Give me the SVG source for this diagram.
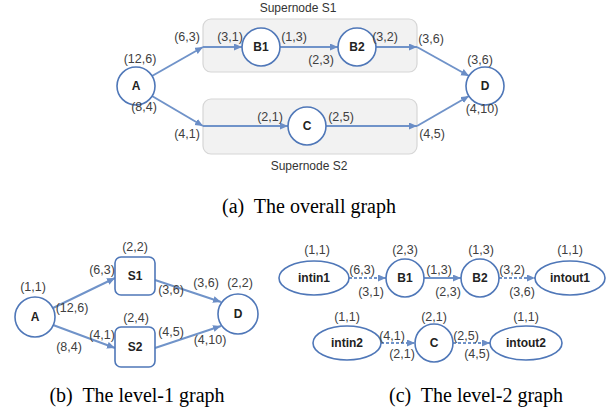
<svg xmlns="http://www.w3.org/2000/svg" width="616" height="410" viewBox="0 0 616 410">
<style>
.n{fill:#fff;stroke:#4f77b8;stroke-width:1.6}
.box{fill:#f2f2f2;stroke:#d6d6d6;stroke-width:1.2}
.e{fill:none;stroke:#7093c9;stroke-width:2}
.d{stroke-dasharray:3 2}
.l{font-family:"Liberation Sans",Arial,sans-serif;font-size:12.5px;fill:#404040;text-anchor:middle}
.nl{font-family:"Liberation Sans",Arial,sans-serif;font-size:12px;font-weight:bold;fill:#222;text-anchor:middle}
.sn{font-family:"Liberation Sans",Arial,sans-serif;font-size:12px;fill:#333;text-anchor:middle}
.cap{font-family:"Liberation Serif","Times New Roman",serif;font-size:20px;fill:#000;text-anchor:middle;white-space:pre}
</style>
<defs>
<marker id="ar" markerUnits="userSpaceOnUse" markerWidth="9" markerHeight="8" refX="8" refY="3.5" orient="auto">
<path d="M0,0 L8,3.5 L0,7 z" fill="#6a8dc6"/>
</marker>
</defs>

<!-- Panel (a) -->
<g id="supernode-s1">
<rect class="box" x="203" y="19" width="214" height="53" rx="8"/>
<text class="sn" x="298" y="12">Supernode S1</text>
</g>
<g id="supernode-s2">
<rect class="box" x="203" y="99" width="214" height="55" rx="8"/>
<text class="sn" x="309" y="170">Supernode S2</text>
</g>
<g id="connectors-a">
<path class="e" d="M152,76 L203,47" marker-end="url(#ar)"/>
<path class="e" d="M203,47 L242,47" marker-end="url(#ar)"/>
<path class="e" d="M280,47 L338,47" marker-end="url(#ar)"/>
<path class="e" d="M376,47 L417,47" marker-end="url(#ar)"/>
<path class="e" d="M417,47 L469,76" marker-end="url(#ar)"/>
<path class="e" d="M152,96 L203,126" marker-end="url(#ar)"/>
<path class="e" d="M203,126 L288,126" marker-end="url(#ar)"/>
<path class="e" d="M326,126 L417,126" marker-end="url(#ar)"/>
<path class="e" d="M417,126 L469,96" marker-end="url(#ar)"/>
</g>
<g id="a-A"><circle class="n" cx="136" cy="86" r="19"/><text class="nl" x="136" y="90">A</text></g>
<g id="a-B1"><circle class="n" cx="261" cy="47" r="19"/><text class="nl" x="261" y="51">B1</text></g>
<g id="a-B2"><circle class="n" cx="357" cy="47" r="19"/><text class="nl" x="357" y="51">B2</text></g>
<g id="a-C"><circle class="n" cx="307" cy="126" r="19"/><text class="nl" x="307" y="130">C</text></g>
<g id="a-D"><circle class="n" cx="485" cy="86" r="19"/><text class="nl" x="485" y="90">D</text></g>
<g id="labels-a">
<text class="l" x="140" y="63">(12,6)</text>
<text class="l" x="187" y="41">(6,3)</text>
<text class="l" x="230" y="41">(3,1)</text>
<text class="l" x="294" y="41">(1,3)</text>
<text class="l" x="321" y="64">(2,3)</text>
<text class="l" x="385" y="41">(3,2)</text>
<text class="l" x="431" y="43">(3,6)</text>
<text class="l" x="480" y="64">(3,6)</text>
<text class="l" x="144" y="111">(8,4)</text>
<text class="l" x="482" y="113">(4,10)</text>
<text class="l" x="270" y="121">(2,1)</text>
<text class="l" x="341" y="121">(2,5)</text>
<text class="l" x="187" y="138">(4,1)</text>
<text class="l" x="432" y="138">(4,5)</text>
</g>
<text class="cap" x="309" y="213">(a)  The overall graph</text>

<!-- Panel (b) -->
<g id="connectors-b">
<path class="e" d="M53,308 L115,278" marker-end="url(#ar)"/>
<path class="e" d="M53,325 L115,348" marker-end="url(#ar)"/>
<path class="e" d="M155,280 L221,302" marker-end="url(#ar)"/>
<path class="e" d="M155,348 L221,326" marker-end="url(#ar)"/>
</g>
<g id="b-A"><circle class="n" cx="35" cy="317" r="20"/><text class="nl" x="35" y="321">A</text></g>
<g id="b-S1"><rect class="n" x="115" y="257" width="40" height="38" rx="6"/><text class="nl" x="135" y="280">S1</text></g>
<g id="b-S2"><rect class="n" x="115" y="327" width="40" height="40" rx="6"/><text class="nl" x="135" y="351">S2</text></g>
<g id="b-D"><circle class="n" cx="238" cy="314" r="20"/><text class="nl" x="238" y="318">D</text></g>
<g id="labels-b">
<text class="l" x="135" y="251">(2,2)</text>
<text class="l" x="102" y="274">(6,3)</text>
<text class="l" x="33" y="291">(1,1)</text>
<text class="l" x="72" y="312">(12,6)</text>
<text class="l" x="171" y="294">(3,6)</text>
<text class="l" x="206" y="287">(3,6)</text>
<text class="l" x="240" y="287">(2,2)</text>
<text class="l" x="136" y="322">(2,4)</text>
<text class="l" x="102" y="339">(4,1)</text>
<text class="l" x="69" y="351">(8,4)</text>
<text class="l" x="171" y="336">(4,5)</text>
<text class="l" x="210" y="344">(4,10)</text>
</g>
<text class="cap" x="137" y="402">(b)  The level-1 graph</text>

<!-- Panel (c) -->
<g id="connectors-c">
<path class="e d" d="M349,278 L386,278" marker-end="url(#ar)"/>
<path class="e" d="M424,278 L461,278" marker-end="url(#ar)"/>
<path class="e d" d="M499,278 L535,278" marker-end="url(#ar)"/>
<path class="e d" d="M381,343 L415,343" marker-end="url(#ar)"/>
<path class="e d" d="M453,343 L490,343" marker-end="url(#ar)"/>
</g>
<g id="c-intin1"><ellipse class="n" cx="314" cy="278" rx="35" ry="17"/><text class="nl" x="314" y="282">intin1</text></g>
<g id="c-B1"><circle class="n" cx="405" cy="278" r="19"/><text class="nl" x="405" y="282">B1</text></g>
<g id="c-B2"><circle class="n" cx="480" cy="278" r="19"/><text class="nl" x="480" y="282">B2</text></g>
<g id="c-intout1"><ellipse class="n" cx="570" cy="278" rx="35" ry="17"/><text class="nl" x="570" y="282">intout1</text></g>
<g id="c-intin2"><ellipse class="n" cx="347" cy="343" rx="34" ry="17"/><text class="nl" x="347" y="347">intin2</text></g>
<g id="c-C"><circle class="n" cx="434" cy="343" r="19"/><text class="nl" x="434" y="347">C</text></g>
<g id="c-intout2"><ellipse class="n" cx="526" cy="343" rx="36" ry="17"/><text class="nl" x="526" y="347">intout2</text></g>
<g id="labels-c">
<text class="l" x="317" y="254">(1,1)</text>
<text class="l" x="405" y="254">(2,3)</text>
<text class="l" x="481" y="254">(1,3)</text>
<text class="l" x="570" y="254">(1,1)</text>
<text class="l" x="362" y="274">(6,3)</text>
<text class="l" x="371" y="296">(3,1)</text>
<text class="l" x="439" y="274">(1,3)</text>
<text class="l" x="448" y="296">(2,3)</text>
<text class="l" x="512" y="274">(3,2)</text>
<text class="l" x="522" y="296">(3,6)</text>
<text class="l" x="347" y="321">(1,1)</text>
<text class="l" x="434" y="321">(2,1)</text>
<text class="l" x="526" y="321">(1,1)</text>
<text class="l" x="392" y="340">(4,1)</text>
<text class="l" x="402" y="358">(2,1)</text>
<text class="l" x="466" y="340">(2,5)</text>
<text class="l" x="477" y="358">(4,5)</text>
</g>
<text class="cap" x="476" y="402">(c)  The level-2 graph</text>
</svg>
